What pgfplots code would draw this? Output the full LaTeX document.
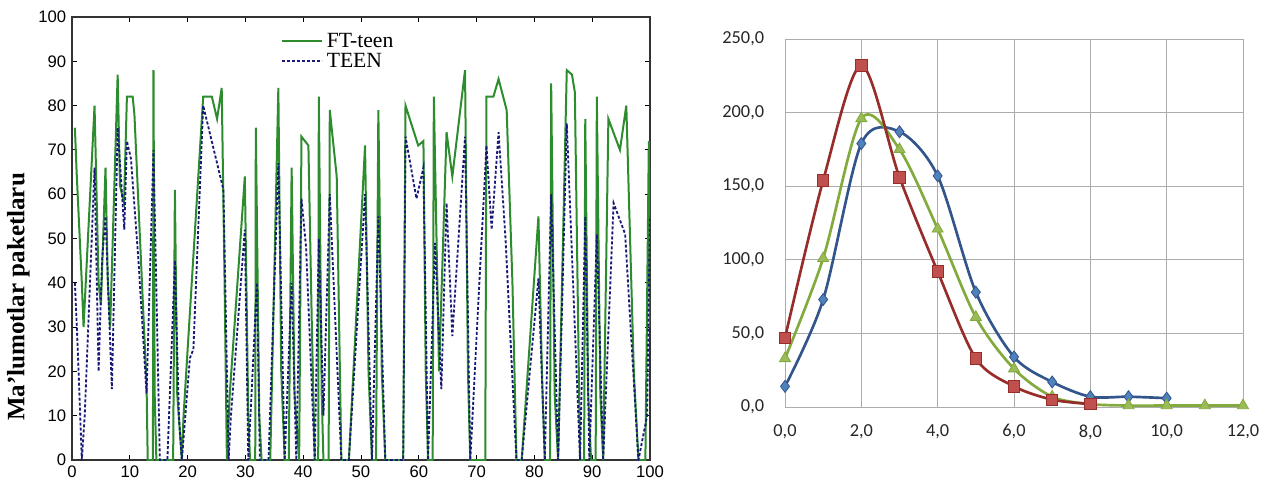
\documentclass[border=0pt]{standalone}
\usepackage{fontspec}
\setmainfont{Liberation Serif}
\newfontfamily\arialf{Liberation Sans}
\newfontfamily\calib{Carlito}
\usepackage{pgfplots}
\pgfplotsset{compat=1.18}

\definecolor{ftgreen}{RGB}{45,140,45}
\definecolor{teenblue}{RGB}{25,25,120}
\definecolor{xred}{RGB}{192,80,77}
\definecolor{xredl}{RGB}{150,45,42}
\definecolor{xblue}{RGB}{79,129,189}
\definecolor{xbluel}{RGB}{50,85,140}
\definecolor{xgreen}{RGB}{155,187,89}
\definecolor{xgreenl}{RGB}{130,170,60}

\begin{document}
\begin{tikzpicture}
\useasboundingbox (0,0) rectangle (760.2pt,290.4pt);

% left panel: packet counts
\begin{axis}[
  at={(43.2pt,14.4pt)}, anchor=south west,
  scale only axis, width=346.8pt, height=265.8pt,
  xmin=0, xmax=100, ymin=0, ymax=100,
  xtick={0,10,...,100}, ytick={0,10,...,100},
  tick align=inside, major tick length=3pt,
  tick style={black, line width=0.5pt},
  axis line style={black!80, line width=0.7pt},
  ticklabel style={font=\arialf\fontsize{10}{11}\selectfont, text=black},
  /pgf/number format/assume math mode=true,
  ylabel={Ma'lumotlar paketlaru},
  ylabel style={font=\bfseries\fontsize{15}{17}\selectfont, at={(axis description cs:-0.093,0.368)}, anchor=center},
  legend style={at={(axis description cs:0.356,0.98)}, anchor=north west, draw=none, fill=none,
    font=\fontsize{13}{14}\selectfont, row sep=-2pt, inner sep=2pt},
  legend cell align={left},
  legend image code/.code={\draw[#1] (0pt,0pt) -- (24pt,0pt);},
]
\addplot[ftgreen, line width=1.2pt] coordinates {
(0.5,75) (0.8,65) (1.7,40) (2.0,30) (3.9,80) (4.6,40) (5.0,35) (5.8,66) (6.2,40) (6.6,30)
(7.9,87) (8.3,62) (9.0,58) (9.5,82) (10.5,82) (10.8,78) (12.9,17) (13.1,0) (14.0,0) (14.1,88)
(14.3,15) (14.6,0) (17.5,0) (17.8,61) (18.2,15) (19.0,0) (19.3,10) (22.7,82) (24.2,82) (25.1,77)
(25.9,84) (26.4,40) (26.8,0) (27.3,15) (29.9,64) (30.5,10) (30.8,0) (31.7,0) (31.8,75) (32.4,10)
(32.8,0) (34.3,0) (35.7,84) (36.2,20) (36.8,0) (37.5,0) (38.0,66) (38.5,15) (39.3,0) (39.7,73)
(40.9,71) (41.5,30) (42.0,0) (42.6,0) (42.7,82) (43.2,15) (43.5,0) (44.4,0) (44.6,79) (45.8,64)
(46.6,0) (47.9,0) (50.7,71) (51.3,20) (51.9,0) (52.6,0) (53.0,79) (53.6,20) (54.2,0) (57.3,0)
(57.7,80) (59.9,71) (60.8,72) (61.2,20) (61.6,0) (62.4,0) (62.6,82) (63.5,20) (64.8,74) (65.8,64)
(68.0,88) (68.5,20) (68.9,0) (71.5,0) (71.7,82) (72.9,82) (73.8,86) (75.2,79) (76.2,40) (76.9,0)
(77.8,0) (80.7,55) (81.3,20) (81.8,0) (82.7,0) (82.9,85) (83.5,15) (84.1,0) (85.6,88) (86.5,87)
(87.0,83) (87.9,0) (88.6,0) (88.8,77) (89.3,15) (89.8,0) (90.6,0) (90.8,82) (91.4,15) (91.9,0)
(92.8,77) (94.8,70) (95.9,80) (97.2,20) (98.0,0) (99.2,0) (99.8,72) (100,30)
};
\addlegendentry{FT-teen}
\addplot[teenblue, line width=1.1pt, dash pattern=on 1.8pt off 1.2pt] coordinates {
(0.5,40) (1.0,25) (1.7,0) (2.2,10) (3.9,66) (4.6,20) (5.2,45) (5.8,55) (6.9,16) (7.9,75)
(9.05,52) (9.5,72) (10.2,68) (11.5,45) (12.9,15) (14.1,70) (15.2,0) (16.5,0) (17.8,45) (18.5,10)
(19.0,0) (20.4,23) (21.0,25) (22.7,80) (26.2,61) (27.1,0) (27.5,10) (29.9,52) (30.5,0) (32.0,40)
(32.5,0) (34.0,0) (35.7,67) (36.8,0) (38.0,40) (38.8,0) (39.7,59) (40.5,48) (42.0,0) (42.7,50)
(43.5,10) (44.6,60) (46.6,0) (47.9,0) (50.7,60) (51.9,0) (53.0,55) (54.2,0) (57.3,0) (57.7,73)
(59.6,59) (60.8,66) (61.6,0) (62.8,49) (63.9,16) (64.8,58) (65.8,28) (68.0,73) (68.9,0) (71.7,71)
(72.6,52) (73.8,74) (75.0,50) (76.9,0) (77.8,0) (80.7,41) (81.8,0) (82.9,60) (84.1,0) (85.6,76)
(87.9,0) (88.8,55) (89.5,0) (90.8,51) (91.9,0) (93.7,58) (95.7,51) (98.0,0) (99.5,10) (100,55)
};
\addlegendentry{TEEN}
\end{axis}

% right panel: distributions
\begin{axis}[
  at={(471pt,46.2pt)}, anchor=south west,
  scale only axis, width=274.8pt, height=220.8pt,
  xmin=0, xmax=12, ymin=0, ymax=250,
  xtick={0,2,...,12}, ytick={0,50,...,250},
  grid=major, grid style={gray!65, line width=0.6pt},
  axis line style={gray!65, line width=0.6pt},
  major tick length=0pt,
  ticklabel style={font=\calib\fontsize{11}{12}\selectfont, text=black!85},
  /pgf/number format/assume math mode=true,
  /pgf/number format/.cd, fixed, fixed zerofill, precision=1, use comma, 1000 sep={},
  /pgfplots/.cd,
  xticklabel style={yshift=-7pt},
  yticklabel style={xshift=-9pt},
  clip=false,
]
\addplot[xbluel, line width=1.6pt, smooth, tension=0.5, mark=diamond*, mark size=3.6pt,
  mark options={fill=xblue, draw=xbluel, line width=0.5pt}] coordinates {
(0,14) (1,73) (2,179) (3,187) (4,157) (5,78) (6,34) (7,17) (8,7) (9,7) (10,6)
};
\addplot[xgreenl, line width=1.6pt, smooth, tension=0.5, mark=triangle*, mark size=3.8pt,
  mark options={fill=xgreen, draw=xgreenl, line width=0.5pt}] coordinates {
(0,33) (1,101) (2,196) (3,175) (4,121) (5,61) (6,26) (7,7) (8,2) (9,1) (10,1) (11,1) (12,1)
};
\addplot[xredl, line width=1.6pt, smooth, tension=0.5, mark=square*, mark size=3.4pt,
  mark options={fill=xred, draw=xredl, line width=0.5pt}] coordinates {
(0,47) (1,154) (2,232) (3,156) (4,92) (5,33) (6,14) (7,5) (8,2)
};
\end{axis}
\end{tikzpicture}
\end{document}
